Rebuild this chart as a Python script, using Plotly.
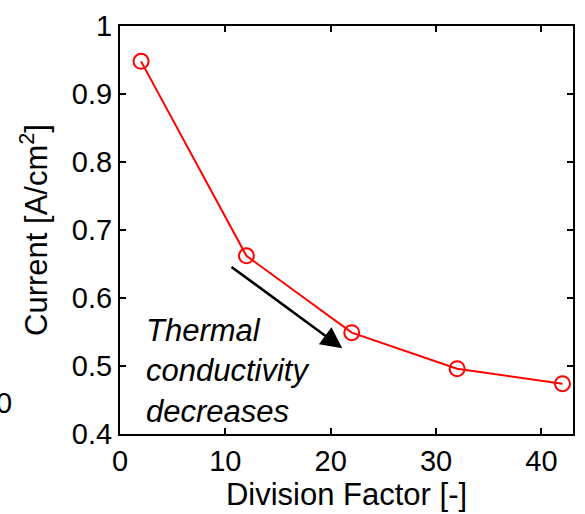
import plotly.graph_objects as go

# Division factor vs. current density
division_factor = [2, 12, 22, 32, 42]
current = [0.948, 0.662, 0.549, 0.496, 0.474]

x_ticks = [0, 10, 20, 30, 40]
y_ticks = [0.4, 0.5, 0.6, 0.7, 0.8, 0.9, 1.0]
y_tick_text = ["0.4", "0.5", "0.6", "0.7", "0.8", "0.9", "1"]

FONT = "Liberation Sans, Arial, sans-serif"

fig = go.Figure()
fig.add_trace(go.Scatter(
    x=division_factor, y=current,
    mode="lines+markers",
    line=dict(color="#ff0000", width=2),
    marker=dict(symbol="circle-open", size=15, color="#ff0000",
                line=dict(width=2, color="#ff0000")),
    showlegend=False,
))

axis_common = dict(
    showline=True, linecolor="black", linewidth=2, mirror="ticks",
    ticks="inside", ticklen=6, tickwidth=1.5, tickcolor="black",
    showgrid=False, zeroline=False,
    tickfont=dict(family=FONT, size=29, color="black"),
)

fig.update_xaxes(
    range=[0, 43], tickvals=x_ticks,
    title=dict(text="Division Factor [-]", font=dict(family=FONT, size=31, color="black"),
               standoff=4),
    **axis_common,
)
fig.update_yaxes(
    range=[0.4, 1.0], tickvals=y_ticks, ticktext=y_tick_text,
    title=dict(text="Current [A/cm<sup>2</sup>]", font=dict(family=FONT, size=31, color="black"),
               standoff=15),
    **axis_common,
)

# Trend arrow and its caption
fig.add_annotation(
    x=21.1, y=0.526, ax=10.3, ay=0.649, axref="x", ayref="y",
    xref="x", yref="y", text=" ", showarrow=True,
    arrowhead=2, arrowsize=1.7, arrowwidth=2.5, arrowcolor="black",
)
fig.add_annotation(
    x=2.3, y=0.493, xref="x", yref="y", xanchor="left", yanchor="middle",
    text="<i>Thermal<br>conductivity<br>decreases</i>", showarrow=False, align="left",
    font=dict(family=FONT, size=31, color="black"),
)

# Tick label of the neighbouring panel, cut at the left edge
plot_w, plot_h = 585 - 130, 514 - 100
fig.add_annotation(
    x=(14 - 120) / plot_w, y=(434 - 403) / plot_h, xref="paper", yref="paper",
    xanchor="right", yanchor="middle", text="0", showarrow=False,
    font=dict(family=FONT, size=29, color="black"),
)

fig.update_layout(
    width=585, height=514, autosize=False,
    margin=dict(l=120, r=10, t=20, b=80),
    paper_bgcolor="white", plot_bgcolor="white",
)

fig.write_html("out.html")
